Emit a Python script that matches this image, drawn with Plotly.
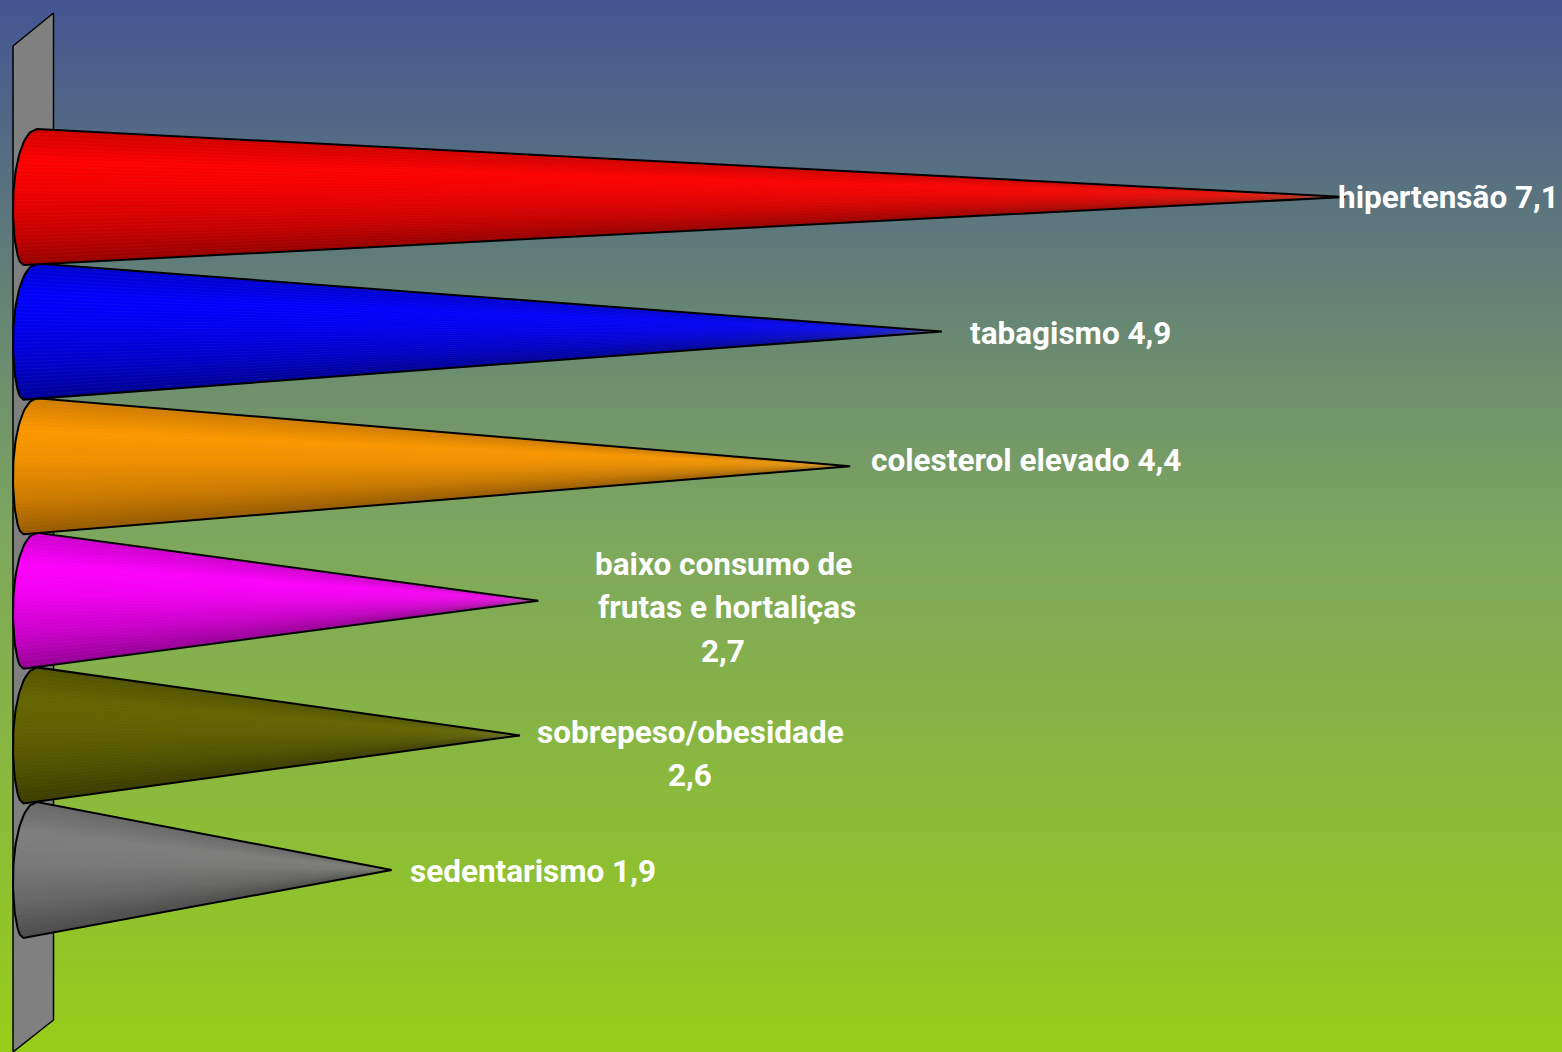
import numpy as np
import plotly.graph_objects as go

# Risk factors and their values
categories = ["hipertensão", "tabagismo", "colesterol elevado",
              "baixo consumo de frutas e hortaliças", "sobrepeso/obesidade", "sedentarismo"]
values = [7.1, 4.9, 4.4, 2.7, 2.6, 1.9]
value_text = ["7,1", "4,9", "4,4", "2,7", "2,6", "1,9"]

# How each label is broken into lines
label_lines = [
    ["hipertensão 7,1"],
    ["tabagismo 4,9"],
    ["colesterol elevado 4,4"],
    ["baixo consumo de", "frutas e hortaliças", "2,7"],
    ["sobrepeso/obesidade", "2,6"],
    ["sedentarismo 1,9"],
]

# Style and layout settings
cone_rgb = [(255, 0, 0), (0, 0, 255), (255, 153, 0), (255, 0, 255), (102, 102, 0), (128, 128, 128)]
label_dx = [[103], [129], [176], [185, 189, 185], [170, 170], [141]]
label_dy = [[0], [2], [-6], [-36, 7, 51], [-3, 40], [1]]

W, H = 1562, 1052
X0_PX, PX_PER_UNIT = 43.2, 183.4
Y0_PX, PX_PER_ROW = 197.0, 134.6
N_BANDS = 36
HALF_H = 68 / PX_PER_ROW

x_range = [-X0_PX / PX_PER_UNIT, (W - X0_PX) / PX_PER_UNIT]
y_range = [(H - Y0_PX) / PX_PER_ROW, -Y0_PX / PX_PER_ROW]


def px_x(px):
    return (np.asarray(px, float) - X0_PX) / PX_PER_UNIT


def px_y(py):
    return (np.asarray(py, float) - Y0_PX) / PX_PER_ROW


def base_edge(u):
    """Left rim of a cone in pixels; u runs from -1 (top) to 1 (bottom)."""
    u = np.asarray(u, float)
    pivot = 0.15
    upper = 13 + 24 * (1 - np.sqrt(np.clip(1 - ((u - pivot) / (1 + pivot)) ** 2, 0, 1)))
    lower = 13 + 10.5 * (1 - np.sqrt(np.clip(1 - ((u - pivot) / (1 - pivot)) ** 2, 0, 1)))
    return np.where(u < pivot, upper, lower)


def shade(u):
    """Brightness across the cone: a highlight above the axis, dark underneath."""
    return np.interp(u, [-1, -0.55, -0.1, 0.5, 1], [0.82, 1.0, 0.95, 0.8, 0.6])


fig = go.Figure()

# Vertical background gradient
bg_y = np.linspace(y_range[1], y_range[0], 160)
fig.add_trace(go.Heatmap(
    x=x_range, y=bg_y, z=[[t, t] for t in np.linspace(0, 1, 160)],
    zmin=0, zmax=1, zsmooth="best", showscale=False, hoverinfo="skip",
    colorscale=[[0, "#455592"], [0.5, "#7da65f"], [1, "#98cd19"]],
))

# Back wall the cones stand on
wall_px = [13, 53.5, 53.5, 13, 13]
wall_py = [46, 13, 1020, 1052, 46]
fig.add_trace(go.Scatter(
    x=px_x(wall_px), y=px_y(wall_py), mode="lines", fill="toself",
    fillcolor="#808080", line=dict(color="black", width=1.5), hoverinfo="skip",
))

# Cones are painted bottom row first, so upper rows overlap lower ones.
# Each colour band reaches down to the cone's lower rim and the next band
# paints over it; a hairline along every band edge gives the facet texture.
rim = np.linspace(-1, 1, 41)
for row in reversed(range(len(values))):
    tip = values[row]
    edges = np.linspace(-1, 1, N_BANDS + 1)
    for a, b in zip(edges[:-1], edges[1:]):
        k = shade((a + b) / 2)
        r, g, bl = (int(c * k) for c in cone_rgb[row])
        span = rim[rim >= a]
        span = np.r_[a, span]
        fig.add_trace(go.Scatter(
            x=np.r_[tip, px_x(base_edge(span)), tip],
            y=np.r_[row, row + span * HALF_H, row],
            mode="lines", fill="toself", fillcolor=f"rgb({r},{g},{bl})",
            line=dict(width=0), hoverinfo="skip",
        ))
    for a in edges[1:-1]:
        fig.add_trace(go.Scatter(
            x=[px_x(base_edge(a)), tip], y=[row + a * HALF_H, row],
            mode="lines", line=dict(color="rgba(135,150,110,0.14)", width=0.5),
            hoverinfo="skip",
        ))
    fig.add_trace(go.Scatter(
        x=np.r_[tip, px_x(base_edge(rim)), tip],
        y=np.r_[row, row + rim * HALF_H, row],
        mode="lines", line=dict(color="black", width=2), hoverinfo="skip",
    ))

# Value labels, one annotation per text line
for row, lines in enumerate(label_lines):
    for text, dx, dy in zip(lines, label_dx[row], label_dy[row]):
        fig.add_annotation(
            x=values[row], y=row, xref="x", yref="y", text=text, showarrow=False,
            xanchor="center", yanchor="middle", xshift=dx, yshift=-dy,
            font=dict(family="Roboto", size=31.5, color="white", weight="bold"),
        )

fig.update_layout(
    width=W, height=H, margin=dict(l=0, r=0, t=0, b=0), showlegend=False,
    paper_bgcolor="#98cd19", plot_bgcolor="#98cd19",
    xaxis=dict(range=x_range, visible=False, fixedrange=True),
    yaxis=dict(range=y_range, visible=False, fixedrange=True),
)

fig.write_html("out.html", config={"displayModeBar": False})
